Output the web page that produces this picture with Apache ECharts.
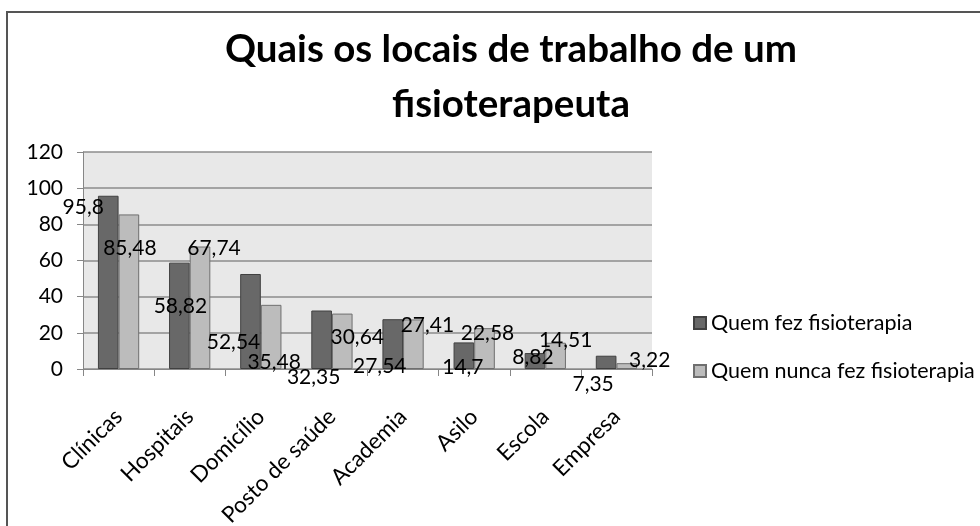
<!DOCTYPE html>
<html>
<head>
<meta charset="utf-8">
<script src="https://cdn.jsdelivr.net/npm/echarts@6/dist/echarts.min.js"></script>
<style>
  html, body { margin: 0; padding: 0; background: #fff; }
  #chart { width: 980px; height: 526px; }
</style>
</head>
<body>
<div id="chart"></div>
<script>
var categories = ['Clínicas', 'Hospitais', 'Domicílio', 'Posto de saúde', 'Academia', 'Asilo', 'Escola', 'Empresa'];
var fezValues = [95.8, 58.82, 52.54, 32.35, 27.54, 14.7, 8.82, 7.35];
var nuncaValues = [85.48, 67.74, 35.48, 30.64, 27.41, 22.58, 14.51, 3.22];
var seriesNames = ['Quem fez fisioterapia', 'Quem nunca fez fisioterapia'];

// label nudges (px) so the value labels sit where the original put them
var fezLabelShift = [[-25, 21], [1, 54], [-17, 78], [-8, 77], [-13, 57], [-1, 35], [-2, 14], [-13, 39]];
var nuncaLabelShift = [[1, 44], [14, 12], [3, 67], [15, 34], [14, 16], [3, 15], [10, 7], [23, 7]];

var font = 'Lato';

function withLabels(values, shifts) {
    return values.map(function (v, i) {
        return { value: v, label: { offset: shifts[i] } };
    });
}

var labelCfg = {
    show: true,
    position: 'top',
    distance: 0,
    color: '#000',
    fontFamily: font,
    fontSize: 21,
    lineHeight: 20,
    formatter: function (p) { return String(p.value).replace('.', ','); }
};

var myChart = echarts.init(document.getElementById('chart'));
myChart.setOption({
    animation: false,
    backgroundColor: '#fff',
    title: {
        text: 'Quais os locais de trabalho de um\nfisioterapeuta',
        left: 506,
        top: 17,
        textAlign: 'center',
        textStyle: {
            fontFamily: font,
            fontSize: 38.5,
            fontWeight: 'bold',
            lineHeight: 55,
            color: '#000'
        }
    },
    graphic: [{
        type: 'polyline',
        shape: { points: [[7, 530], [7, 12], [985, 12]] },
        style: { stroke: '#555', lineWidth: 2, fill: null }
    }],
    legend: {
        orient: 'vertical',
        left: 688,
        top: 306,
        itemWidth: 12,
        itemHeight: 12,
        itemGap: 24,
        icon: 'rect',
        textStyle: { fontFamily: font, fontSize: 21.5, lineHeight: 24, color: '#000' },
        data: seriesNames
    },
    grid: {
        left: 83,
        right: 328,
        top: 152,
        bottom: 157,
        outerBoundsMode: 'none',
        show: true,
        backgroundColor: '#e8e8e8',
        borderWidth: 0
    },
    xAxis: {
        type: 'category',
        data: categories,
        axisLine: { lineStyle: { color: '#868686', width: 1 } },
        axisTick: { show: true, length: 7, lineStyle: { color: '#868686' } },
        axisLabel: {
            rotate: 45,
            margin: 44,
            interval: 0,
            color: '#000',
            fontFamily: font,
            fontSize: 22.5
        }
    },
    yAxis: {
        type: 'value',
        min: 0,
        max: 120,
        interval: 20,
        axisLine: { show: true, lineStyle: { color: '#868686', width: 1 } },
        axisTick: { show: true, length: 6, lineStyle: { color: '#868686' } },
        axisLabel: { margin: 20, color: '#000', fontFamily: font, fontSize: 21 },
        splitLine: { lineStyle: { color: '#8c8c8c', width: 1.5 } }
    },
    series: [{
        name: seriesNames[0],
        type: 'bar',
        barGap: '0%',
        barCategoryGap: '42%',
        itemStyle: { color: '#686868', borderColor: '#404040', borderWidth: 1 },
        label: labelCfg,
        data: withLabels(fezValues, fezLabelShift)
    }, {
        name: seriesNames[1],
        type: 'bar',
        itemStyle: { color: '#bcbcbc', borderColor: '#6f6f6f', borderWidth: 1 },
        label: labelCfg,
        data: withLabels(nuncaValues, nuncaLabelShift)
    }]
});
</script>
</body>
</html>
